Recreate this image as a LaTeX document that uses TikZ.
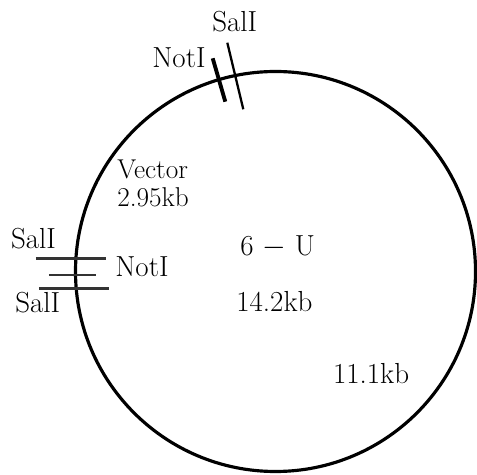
\documentclass[tikz,border=0pt]{standalone}
\begin{document}
\begin{tikzpicture}[lbl/.style={inner sep=0pt, anchor=base west, font=\fontsize{16.5}{19}\selectfont},
  site/.style={line width=1.5pt, draw=black!80}]
\useasboundingbox (-5.51,-4.05) rectangle (4.03,5.43);
\draw[line width=1.8pt](0,0)circle(4);
\draw[line width=2.2pt](-1.256,4.264)--(-1.004,3.396);
\draw[line width=1.3pt](-0.964,4.576)--(-0.644,3.244);
\draw[site](-4.79,0.264)--(-3.39,0.264);
\draw[site](-4.53,-0.07)--(-3.59,-0.07);
\draw[site](-4.73,-0.336)--(-3.33,-0.336);
\node[lbl] (saltop) at (-1.27,4.79) {SalI};
\node[lbl] (nottop) at (-2.47,4.07) {NotI};
\node[lbl, anchor=north west, align=left, font=\fontsize{15.5}{15.5}\selectfont] (vec) at (-3.17,2.23) {Vector\\2.95kb};
\node[lbl] (salup) at (-5.296,0.464) {SalI};
\node[lbl] (notleft) at (-3.21,-0.104) {NotI};
\node[lbl] (saldown) at (-5.21,-0.83) {SalI};
\node[lbl] (clone) at (-0.71,0.31) {6 $-$ U};
\node[lbl] (total) at (-0.79,-0.81) {14.2kb};
\node[lbl] (insert) at (1.144,-2.23) {11.1kb};
\end{tikzpicture}
\end{document}
